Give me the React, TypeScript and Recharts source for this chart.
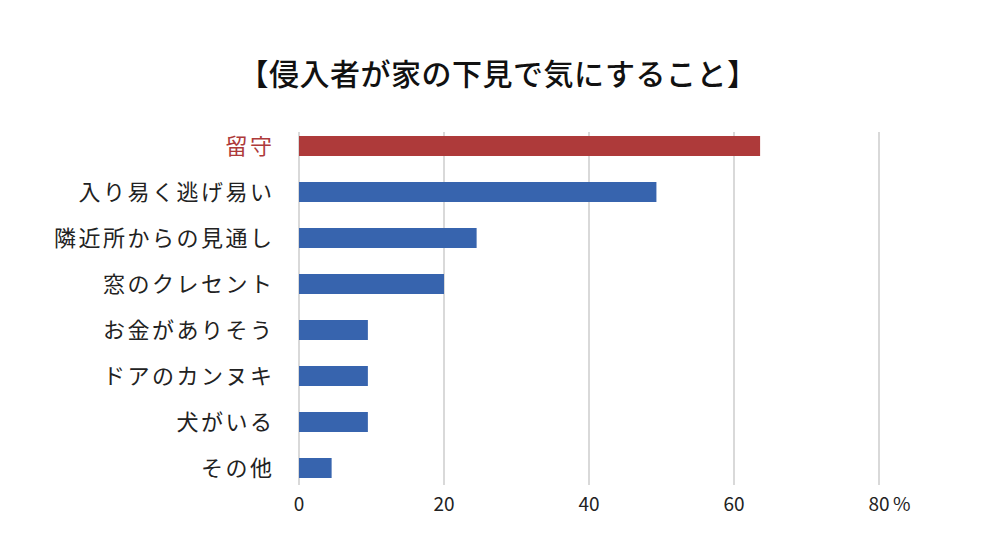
import React from 'react';
import { BarChart, Bar, XAxis, YAxis, CartesianGrid, Cell } from 'recharts';

const categories = ['留守', '入り易く逃げ易い', '隣近所からの見通し', '窓のクレセント', 'お金がありそう', 'ドアのカンヌキ', '犬がいる', 'その他'];
const values = [63.6, 49.3, 24.5, 20, 9.5, 9.5, 9.5, 4.5];
const xTicks = [0, 20, 40, 60, 80];
const highlight = '留守';
const title = '【侵入者が家の下見で気にすること】';

const RED = '#ae3a3a';
const BLUE = '#3764ae';
const FONT = '"Noto Sans CJK JP", "Noto Sans", sans-serif';

const data = categories.map((c, i) => ({ name: c, value: values[i] }));

const GridLine = (p: any) => (
  <line key={p.key ?? `g-${p.index}`} x1={p.x1} x2={p.x2} y1={p.y1 + 9} y2={p.y2 - 6} stroke="#d9d9d9" strokeWidth={2} />
);

const YTick = (p: any) => {
  const v = p.payload.value;
  return (
    <text x={p.x + 2.5} y={p.y - 2} textAnchor="end" dominantBaseline="central" fontSize={22} letterSpacing={2.5}
      fill={v === highlight ? RED : '#222'} fontFamily={FONT}>
      {v}
    </text>
  );
};

const XTick = (p: any) => {
  const v = p.payload.value;
  const last = v === xTicks[xTicks.length - 1];
  return (
    <g>
      <text x={p.x} y={p.y + 11} textAnchor="middle" dominantBaseline="central" fontSize={19} fill="#222" fontFamily={FONT}>
        {v}
      </text>
      {last && (
        <text x={p.x + 14} y={p.y + 11} textAnchor="start" dominantBaseline="central" fontSize={19} fill="#222" fontFamily={FONT}>
          %
        </text>
      )}
    </g>
  );
};

export default function App() {
  return (
    <div style={{ position: 'absolute', left: 0, top: 0, width: 1000, height: 540, background: '#fff' }}>
      <div style={{ position: 'absolute', left: 0, top: 50, width: 996, textAlign: 'center', fontFamily: FONT, fontSize: 30, letterSpacing: 0.5, fontWeight: 500, color: '#111', lineHeight: '44px' }}>
        {title}
      </div>
      <BarChart width={1000} height={540} data={data} layout="vertical"
        margin={{ top: 123, right: 121, bottom: 19, left: 0 }}>
        <CartesianGrid horizontal={false} vertical={GridLine} />
        <XAxis type="number" domain={[0, 80]} ticks={xTicks} axisLine={false} tickLine={false} tickSize={0} tickMargin={0} height={30} tick={<XTick />} interval={0} />
        <YAxis type="category" dataKey="name" width={299} axisLine={false} tickLine={false} tickSize={0} tickMargin={27} tick={<YTick />} interval={0} />
        <Bar dataKey="value" barSize={20} isAnimationActive={false}>
          {data.map((d) => (
            <Cell key={d.name} fill={d.name === highlight ? RED : BLUE} />
          ))}
        </Bar>
      </BarChart>
    </div>
  );
}
